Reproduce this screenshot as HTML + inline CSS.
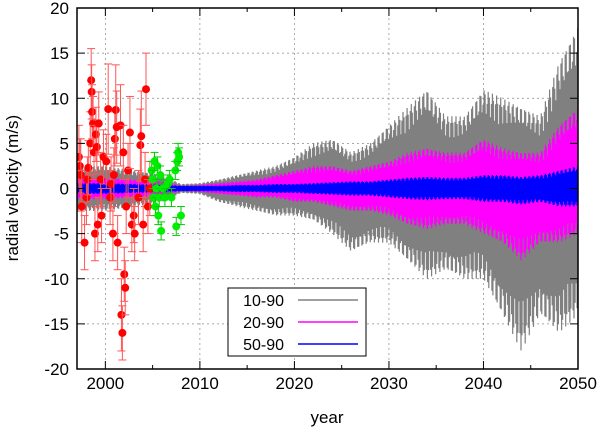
<!DOCTYPE html>
<html><head><meta charset="utf-8"><style>
html,body{margin:0;padding:0;background:#fff;}
svg{display:block;font-family:"Liberation Sans",sans-serif;}
</style></head><body>
<svg id="chart" width="602" height="430" viewBox="0 0 602 430">
<g id="grid"></g>
<defs><clipPath id="pc"><rect x="77" y="8" width="501" height="361"/></clipPath></defs>
<g id="series" clip-path="url(#pc)"></g>
<g id="axes"></g>
<text x="327" y="423" text-anchor="middle" font-size="17">year</text>
<text transform="translate(18,188) rotate(-90)" text-anchor="middle" font-size="17">radial velocity (m/s)</text>
<g id="legend">
<rect x="228" y="288" width="138" height="68" fill="#fff" stroke="#000" stroke-width="1"/>
<g><text x="284" y="306" text-anchor="end" font-size="16">10-90</text><line x1="298" y1="300" x2="358" y2="300" stroke="#808080" stroke-width="1.5"/></g>
<g><text x="284" y="328" text-anchor="end" font-size="16">20-90</text><line x1="298" y1="322" x2="358" y2="322" stroke="#ff00ff" stroke-width="1.5"/></g>
<g><text x="284" y="350" text-anchor="end" font-size="16">50-90</text><line x1="298" y1="344" x2="358" y2="344" stroke="#0000ff" stroke-width="1.5"/></g>
</g>
</svg>
<script>
const envYears=[1997,2000,2003,2006,2008,2010,2012,2014,2016,2018,2020,2022,2024,2026,2028,2030,2032,2034,2036,2038,2040,2042,2044,2046,2048,2050];
const grayUp=[2.5,2.5,2,1.5,0.5,0.6,1,1.5,2,2.5,3.5,5,5.5,4,5,7,9,11,8,8,11,10,9,8,14,18];
const grayLo=[-2.5,-2.5,-2,-1.5,-0.5,-0.6,-1.5,-2,-2.5,-3,-3,-3.5,-5,-7,-6,-6,-8,-10,-9,-10,-10,-14,-18,-14,-16,-14];
const magUp=[1.2,1.2,1,0.8,0.3,0.4,0.6,0.8,1,1.5,2,2.5,2.5,2,2.5,3,4,4.5,4,4,5.5,4.5,4,4,7,9];
const magLo=[-1.2,-1.2,-1,-0.8,-0.3,-0.4,-0.6,-0.8,-1,-1,-1.5,-1.5,-2,-2.5,-2.5,-3,-4,-4.5,-4,-4,-5,-6,-8,-6,-6,-5];
const blueUp=[0.6,0.6,0.5,0.4,0.3,0.3,0.3,0.4,0.4,0.5,0.5,0.6,0.7,0.8,0.8,1,1.2,1.3,1.2,1.2,1.5,1.5,1.3,1.5,2,2.5];
const blueLo=[-0.6,-0.6,-0.5,-0.4,-0.3,-0.3,-0.3,-0.4,-0.4,-0.5,-0.5,-0.6,-0.7,-0.8,-0.8,-1,-1.2,-1.3,-1.2,-1.2,-1.5,-1.5,-1.8,-1.5,-2,-2];
const redYears=[1997.2,1997.3,1997.4,1997.5,1997.8,1998,1998.1,1998.2,1998.4,1998.5,1998.55,1998.6,1998.7,1998.8,1998.9,1999,1999.1,1999.2,1999.3,1999.5,1999.6,1999.8,2000.1,2000.3,2000.5,2000.6,2000.8,2000.9,2001,2001.1,2001.2,2001.3,2001.6,2001.7,2001.8,2001.9,2002,2002.1,2002.2,2002.4,2002.6,2002.8,2003,2003.1,2003.5,2003.7,2003.8,2004,2004.2,2004.3,2004.5,2004.7];
const redVals=[3.5,2.5,1.5,-2,-6,-1,1,2.3,5,12,10.7,8.5,7.2,4,-5,6,4.6,-4,7.2,1,-3,3.5,3,8.8,-1,0.5,-5,1.5,5.5,8.7,6.8,-6,7,-14,-16,4,-9.5,-11,-2,2,6.2,-4,-3,-5,-1,4.8,5.8,-4,1,11,-2,0];
const redErr=[3.5,3,4,4,3,3,2.5,3,3.5,3.5,3,3,3,3,3,3,3,3,3.5,3,3,3,3,5,3,3,3,3,3,5,4,3,4.5,4,3,3,3,3,3,3,4,3,3,3,3,4,5,3,3,4,3,3];
const greenYears=[2004.9,2005,2005.1,2005.2,2005.3,2005.4,2005.5,2005.6,2005.7,2005.8,2005.9,2006.1,2006.3,2006.6,2006.8,2007,2007.4,2007.5,2007.6,2007.7,2007.8,2008];
const greenVals=[2,1,-1,3,-2,0,2.5,-3,-1,1.5,-4.7,0,-1,0.5,1,-1,2,-4.2,3,4,3.5,-3];
const greenErr=[1,1,1,1,1,1,1,1,1,1,1,1,1,1,1,1,1,1,1,1,1,1];
const xTicks=[2000,2010,2020,2030,2040,2050];
const yTicks=[-20,-15,-10,-5,0,5,10,15,20];

const X0=77,X1=578,Y0=8,Y1=369,xmin=1997,xmax=2050,ymin=-20,ymax=20;
const sx=v=>X0+(v-xmin)/(xmax-xmin)*(X1-X0);
const sy=v=>Y1-(v-ymin)/(ymax-ymin)*(Y1-Y0);
const NS='http://www.w3.org/2000/svg';
function mk(tag,attrs,parent){const e=document.createElementNS(NS,tag);for(const k in attrs)e.setAttribute(k,attrs[k]);parent.appendChild(e);return e;}
const grid=document.getElementById('grid'),axes=document.getElementById('axes'),series=document.getElementById('series');
for(let t=2000;t<=2050;t+=10){if(t>xmin&&t<xmax){const g=mk('line',{x1:sx(t),x2:sx(t),y1:Y0,y2:Y1,stroke:'#888','stroke-width':0.7,'stroke-dasharray':'2,3'},grid);

}}
yTicks.forEach(t=>{if(t>ymin&&t<ymax){const g=mk('line',{x1:X0,x2:X1,y1:sy(t),y2:sy(t),stroke:'#888','stroke-width':0.7,'stroke-dasharray':'2,3'},grid);

}});
function interp(arr,y){if(y<=envYears[0])return arr[0];for(let i=1;i<envYears.length;i++){if(y<=envYears[i]){const f=(y-envYears[i-1])/(envYears[i]-envYears[i-1]);return arr[i-1]+f*(arr[i]-arr[i-1]);}}return arr[arr.length-1];}
function band(up,lo,color,name){let d='';let k=0;for(let y=xmin;y<=xmax;y+=0.055){const m=0.7+0.3*Math.abs(Math.sin(y*7.3));const v=(k%2?interp(up,y):interp(lo,y))*m;d+=(k?'L':'M')+sx(y).toFixed(1)+','+sy(v).toFixed(1);k++;}
const p=mk('path',{d:d,fill:'none',stroke:color,'stroke-width':1.2},series);

}
band(grayUp,grayLo,'#808080','series-10-90');
band(magUp,magLo,'#ff00ff','series-20-90');
band(blueUp,blueLo,'#0000ff','series-50-90');
function pts(xs,vs,es,color,ecolor,name){xs.forEach((x,i)=>{const g=mk('g',{},series);


const cx=sx(x);mk('line',{x1:cx,x2:cx,y1:sy(vs[i]+es[i]),y2:sy(vs[i]-es[i]),stroke:ecolor,'stroke-width':1},g);
[vs[i]+es[i],vs[i]-es[i]].forEach(v=>mk('line',{x1:cx-4,x2:cx+4,y1:sy(v),y2:sy(v),stroke:ecolor,'stroke-width':1},g));
mk('circle',{cx:cx,cy:sy(vs[i]),r:4,fill:color},g);});}
pts(redYears,redVals,redErr,'#ff0000','#ff5555','red-point');
pts(greenYears,greenVals,greenErr,'#00ee00','#00cc00','green-point');
const fr=mk('rect',{x:X0,y:Y0,width:X1-X0,height:Y1-Y0,fill:'none',stroke:'#000','stroke-width':1.5},axes);


for(let t=2000;t<=2050;t+=5){const x=sx(t),L=t%10?4:8;mk('line',{x1:x,x2:x,y1:Y1,y2:Y1-L,stroke:'#000'},axes);mk('line',{x1:x,x2:x,y1:Y0,y2:Y0+L,stroke:'#000'},axes);}
xTicks.forEach(t=>{const e=mk('text',{x:sx(t),y:Y1+20,'text-anchor':'middle','font-size':17},axes);e.textContent=t;

});
yTicks.forEach(t=>{const y=sy(t);mk('line',{x1:X0,x2:X0+8,y1:y,y2:y,stroke:'#000'},axes);mk('line',{x1:X1,x2:X1-8,y1:y,y2:y,stroke:'#000'},axes);
const e=mk('text',{x:X0-8,y:y+6,'text-anchor':'end','font-size':17},axes);e.textContent=t;

});
</script>
</body></html>
